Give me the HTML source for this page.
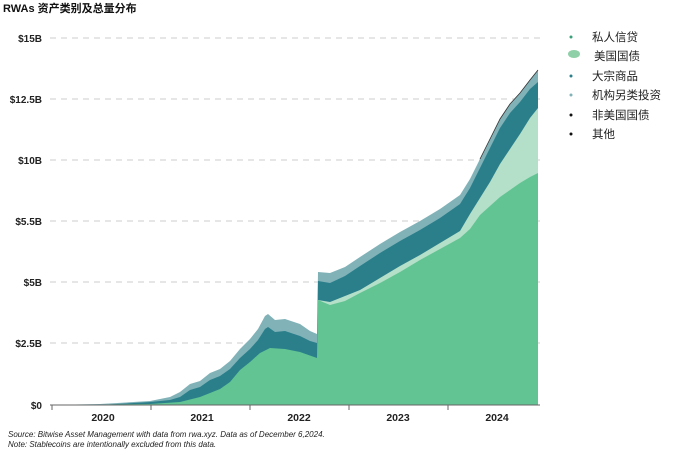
<!DOCTYPE html>
<html><head><meta charset="utf-8"><style>
body{margin:0;background:#fff;width:680px;height:453px;overflow:hidden;font-family:"Liberation Sans","Noto Sans CJK SC",sans-serif}
</style></head><body>
<svg width="680" height="453" xmlns="http://www.w3.org/2000/svg" font-family="Liberation Sans, Noto Sans CJK SC, sans-serif">
<text x="3" y="12" font-size="11" font-weight="bold" fill="#111">RWAs 资产类别及总量分布</text>
<g stroke="#ccc" stroke-dasharray="6,5" stroke-width="1">
<line x1="50" y1="38" x2="540" y2="38"/><line x1="50" y1="99" x2="540" y2="99"/><line x1="50" y1="160" x2="540" y2="160"/><line x1="50" y1="221" x2="540" y2="221"/><line x1="50" y1="282" x2="540" y2="282"/><line x1="50" y1="343" x2="540" y2="343"/>
</g>
<g font-size="10" font-weight="bold" fill="#222" text-anchor="end">
<text x="42" y="42">$15B</text><text x="42" y="103">$12.5B</text><text x="42" y="164">$10B</text><text x="42" y="225">$5.5B</text><text x="42" y="286">$5B</text><text x="42" y="347">$2.5B</text><text x="42" y="409">$0</text>
</g>
<polygon fill="#80b2b8" points="50,405 100,404 150,401 170,397 180,392 190,384 200,381 210,373 220,369 230,361 240,349 250,339 258,329 265,316 268,314 275,320 285,319 300,324 310,331 317,334 318,272 330,273 345,267 360,257 380,244 400,232 420,221 440,209 460,195 470,179 480,159 490,139 500,119 510,104 520,93 530,80 538,70 538,405"/>
<polygon fill="#2a7f8b" points="50,405 100,405 150,402 170,400 180,397 190,390 200,387 210,380 220,376 230,369 240,358 250,349 258,340 265,329 268,327 275,332 285,331 300,336 310,341 317,343 318,281 330,283 345,276 360,266 380,253 400,241 420,230 440,218 460,204 470,188 480,168 490,148 500,128 510,113 520,102 530,89 538,82 538,405"/>
<polygon fill="#b4dfc8" points="318,300 330,302 345,296 360,290 380,278 400,266 420,255 440,243 460,231 470,214 480,198 490,182 500,164 510,149 520,134 530,118 538,108 538,405 318,405"/>
<polygon fill="#62c492" points="50,405 150,404 180,402 200,397 220,389 230,382 240,370 250,362 260,353 270,348 285,349 300,352 317,358 318,300 330,305 345,301 360,293 380,283 400,272 420,260 440,249 460,238 470,229 480,215 490,206 500,197 510,190 520,183 530,177 538,173 538,405"/>
<polyline fill="none" stroke="#333" stroke-width="0.8" points="480,159 490,139 500,119 510,104 520,93 530,80 538,70"/>
<line x1="50" y1="405" x2="540" y2="405" stroke="#666" stroke-width="1"/>
<g stroke="#666"><line x1="52" y1="405" x2="52" y2="410"/><line x1="151" y1="405" x2="151" y2="410"/><line x1="250" y1="405" x2="250" y2="410"/><line x1="349" y1="405" x2="349" y2="410"/><line x1="448" y1="405" x2="448" y2="410"/></g>
<g font-size="10.5" font-weight="bold" fill="#222" text-anchor="middle">
<text x="103" y="421">2020</text><text x="202" y="421">2021</text><text x="299" y="421">2022</text><text x="398" y="421">2023</text><text x="497" y="421">2024</text>
</g>
<text x="8" y="437" font-size="8" font-style="italic" fill="#222">Source: Bitwise Asset Management with data from rwa.xyz. Data as of December 6,2024.</text>
<text x="8" y="447" font-size="8" font-style="italic" fill="#222">Note: Stablecoins are intentionally excluded from this data.</text>
<g font-size="11.5" fill="#222">
<circle cx="571" cy="37" r="1.5" fill="#3aa07a"/><text x="592" y="41">私人信贷</text>
<ellipse cx="574" cy="54" rx="6" ry="4" fill="#8fd0a8"/><text x="594" y="60">美国国债</text>
<circle cx="571" cy="76" r="1.5" fill="#2a7f8b"/><text x="592" y="80">大宗商品</text>
<circle cx="571" cy="95" r="1.5" fill="#80b2b8"/><text x="592" y="99">机构另类投资</text>
<circle cx="571" cy="115" r="1.5" fill="#111"/><text x="592" y="119">非美国国债</text>
<circle cx="571" cy="134" r="1.5" fill="#111"/><text x="592" y="138">其他</text>
</g>
</svg>
</body></html>
